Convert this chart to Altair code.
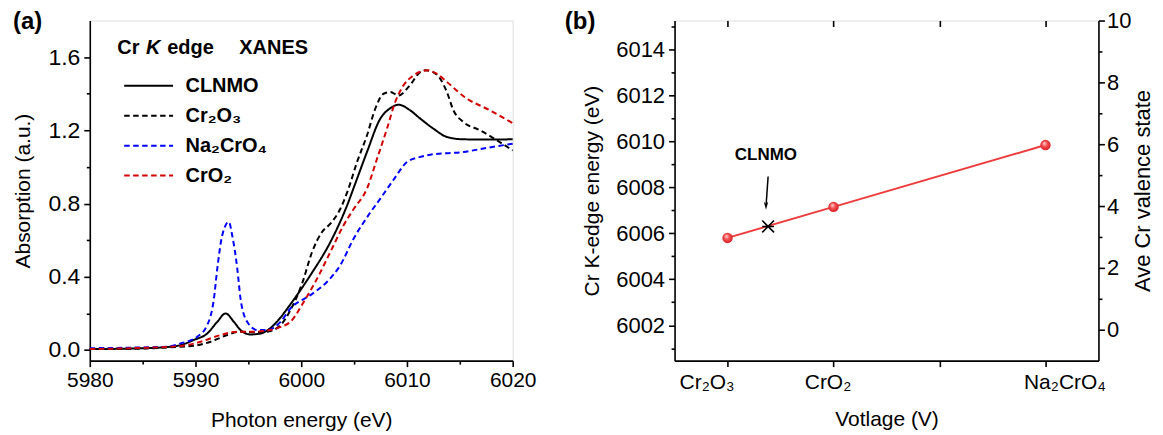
import altair as alt
import pandas as pd

FONT = "Liberation Sans"

# ---------------- Panel (a): Cr K-edge XANES spectra ----------------
clnmo_energy = [5980, 5984, 5987, 5988.6, 5989.85, 5991.1, 5992.06, 5992.84, 5993.63, 5994.26,
                5995.2, 5996.15, 5997.09, 5998.0, 5998.98, 6000.87, 6002.76, 6004.2, 6005.28, 6006.22,
                6007.48, 6008.4, 6009.21, 6010.31, 6011.26, 6012.51, 6013.78, 6015.35, 6017.5, 6020]
clnmo_abs = [0.005, 0.008, 0.015, 0.027, 0.055, 0.09, 0.154, 0.20, 0.154, 0.109,
             0.085, 0.09, 0.12, 0.175, 0.25, 0.409, 0.59, 0.77, 0.936, 1.082,
             1.264, 1.32, 1.34, 1.309, 1.264, 1.209, 1.164, 1.151, 1.15, 1.151]

cr2o3_energy = [5980, 5984, 5988.6, 5989.85, 5991.43, 5993.0, 5994.26, 5995.5, 5996.78, 5998.04,
                5999.0, 6000.08, 6001.03, 6001.97, 6002.76, 6003.7, 6004.4, 6005.28, 6006.22, 6007.0,
                6007.79, 6008.42, 6009.21, 6010.2, 6011.26, 6011.73, 6012.4, 6013.14, 6013.78, 6014.4,
                6015.35, 6016.92, 6018.5, 6020]
cr2o3_abs = [0.005, 0.007, 0.018, 0.023, 0.045, 0.082, 0.1, 0.097, 0.1, 0.136,
             0.22, 0.363, 0.536, 0.645, 0.69, 0.772, 0.87, 1.027, 1.173, 1.318,
             1.40, 1.409, 1.391, 1.44, 1.518, 1.528, 1.52, 1.482, 1.409, 1.309,
             1.245, 1.2, 1.146, 1.09]

na2cro4_energy = [5980, 5984, 5987.34, 5988.59, 5990.17, 5991.11, 5991.74, 5992.06, 5992.53, 5993.15,
                  5993.47, 5993.95, 5994.26, 5994.89, 5995.84, 5996.78, 5998.04, 5998.98, 6000.87, 6002.45,
                  6003.7, 6004.96, 6006.4, 6007.48, 6008.73, 6010.0, 6011.26, 6012.2, 6015.35, 6017.55, 6020]
na2cro4_abs = [0.01, 0.013, 0.018, 0.036, 0.073, 0.136, 0.28, 0.445, 0.627, 0.70,
               0.627, 0.445, 0.28, 0.154, 0.109, 0.109, 0.154, 0.227, 0.30, 0.373,
               0.464, 0.609, 0.74, 0.827, 0.93, 1.027, 1.055, 1.067, 1.082, 1.104, 1.127]

cro2_energy = [5980, 5984, 5988.6, 5990.48, 5992.37, 5993.95, 5995.5, 5997.09, 5998.0, 5998.98,
               6000.24, 6001.5, 6002.76, 6004.01, 6004.96, 6006.22, 6007.17, 6008.11, 6008.89, 6009.68,
               6010.5, 6011.26, 6011.9, 6012.8, 6013.78, 6015.67, 6017.55, 6020]
cro2_abs = [0.005, 0.01, 0.022, 0.045, 0.082, 0.1, 0.1, 0.109, 0.125, 0.154,
            0.263, 0.39, 0.536, 0.682, 0.77, 0.882, 1.045, 1.209, 1.355, 1.446,
            1.495, 1.52, 1.528, 1.51, 1.464, 1.373, 1.318, 1.24]

series_names = ["CLNMO", "Cr₂O₃", "Na₂CrO₄", "CrO₂"]
series_colors = ["#000000", "#000000", "#0000ff", "#d40000"]
series_dashes = [[1, 0], [5.5, 3.5], [5.5, 3.5], [5.5, 3.5]]

xa_major = [5980, 5990, 6000, 6010, 6020]
xa_minor = [5985, 5995, 6005, 6015]
ya_major = [0.0, 0.4, 0.8, 1.2, 1.6]
ya_minor = [0.2, 0.6, 1.0, 1.4]

# ---------------- Panel (b): edge energy vs valence ----------------
ref_names = ["Cr₂O₃", "CrO₂", "Na₂CrO₄"]
ref_valence = [3, 4, 6]
ref_edge = [6005.80, 6007.15, 6009.84]
clnmo_valence = [3.383]
clnmo_edge = [6006.30]
arrow_valence = [3.383, 3.364]
arrow_edge = [6008.47, 6007.25]
arrow_head_valence = [3.363]
arrow_head_edge = [6007.20]
label_valence = [3.362]
label_edge = [6009.40]
label_text = ["CLNMO"]

xb_ticks = [3, 4, 5, 6]
xb_labels = ["Cr₂O₃", "CrO₂", "", "Na₂CrO₄"]
yb_major = [6002, 6004, 6006, 6008, 6010, 6012, 6014]
yb_minor = [6001, 6003, 6005, 6007, 6009, 6011, 6013, 6015]
yr_major = [0, 2, 4, 6, 8, 10]
yr_minor = [1, 3, 5, 7, 9]

# ---------------- build tables ----------------
rows = []
for name, es, vs in zip(series_names,
                        [clnmo_energy, cr2o3_energy, na2cro4_energy, cro2_energy],
                        [clnmo_abs, cr2o3_abs, na2cro4_abs, cro2_abs]):
    for i, (e, v) in enumerate(zip(es, vs)):
        rows.append({"series": name, "energy": e, "absorption": v, "order": i})
df_a = pd.DataFrame(rows)

XA = alt.Scale(domain=[5980, 6020], nice=False, zero=False)
YA = alt.Scale(domain=[-0.058, 1.8], nice=False, zero=False)

AX = dict(labelFont=FONT, titleFont=FONT, titleFontWeight="normal", labelColor="black",
          titleColor="black", domainColor="black", tickColor="black", domainWidth=1.6,
          tickWidth=1.6, grid=False, labelFlush=False, labelOverlap=False)

legend = alt.Legend(title=None, orient="none", legendX=49, legendY=55.5,
                    symbolType="M-8,0H8", symbolSize=37.5, symbolStrokeWidth=2,
                    labelFont=FONT, labelFontSize=20, labelFontWeight="bold",
                    labelColor="black", labelOffset=27, rowPadding=10, padding=0)

lines = alt.Chart(df_a).mark_line(strokeWidth=2, interpolate="monotone").encode(
    x=alt.X("energy:Q", scale=XA,
            axis=alt.Axis(values=xa_major, format="d", title="Photon energy (eV)",
                          labelFontSize=21, titleFontSize=21,
                          tickSize=6, labelPadding=3, titlePadding=19, **AX)),
    y=alt.Y("absorption:Q", scale=YA,
            axis=alt.Axis(values=ya_major, format=".1f", title="Absorption (a.u.)",
                          labelFontSize=23, titleFontSize=21,
                          tickSize=6, labelPadding=4, titlePadding=14, **AX)),
    color=alt.Color("series:N", scale=alt.Scale(domain=series_names, range=series_colors),
                    legend=legend),
    strokeDash=alt.StrokeDash("series:N", scale=alt.Scale(domain=series_names, range=series_dashes),
                              legend=legend),
    order="order:Q",
)

minor_a = alt.Chart(df_a).mark_point(opacity=0).encode(
    x=alt.X("energy:Q", scale=XA,
            axis=alt.Axis(values=xa_minor, orient="bottom", labels=False, title=None,
                          domain=False, tickSize=3.5, **AX)),
    y=alt.Y("absorption:Q", scale=YA,
            axis=alt.Axis(values=ya_minor, orient="left", labels=False, title=None,
                          domain=False, tickSize=3.5, **AX)),
)


def label(txt, x, y, size=20, weight="bold", style="normal", align="left"):
    return alt.Chart(pd.DataFrame({"t": [txt]})).mark_text(
        font=FONT, fontSize=size, fontWeight=weight, fontStyle=style,
        align=align, baseline="alphabetic", color="black",
    ).encode(text="t:N", x=alt.value(x), y=alt.value(y))


panel_a = alt.layer(
    lines, minor_a,
    label("(a)", -77, 8, size=24),
    label("Cr", 27.6, 34),
    label("K", 56.3, 34, style="italic"),
    label("edge", 77.6, 34),
    label("XANES", 149.9, 34),
).resolve_axis(x="independent", y="independent").properties(width=424, height=341)

# ---------------- Panel (b) ----------------
XB = alt.Scale(domain=[2.5, 6.5], nice=False, zero=False)
YB = alt.Scale(domain=[6000.46, 6015.26], nice=False, zero=False)
YR = alt.Scale(domain=[-1, 10], nice=False, zero=False)

label_expr = " : ".join(
    f"datum.value == {v} ? '{t}'" for v, t in zip(xb_ticks, xb_labels) if t
) + " : ''"

df_ref = pd.DataFrame({"name": ref_names, "valence": ref_valence, "edge": ref_edge})
df_clnmo = pd.DataFrame({"valence": clnmo_valence, "edge": clnmo_edge})
df_arrow = pd.DataFrame({"valence": arrow_valence, "edge": arrow_edge})
df_head = pd.DataFrame({"valence": arrow_head_valence, "edge": arrow_head_edge})
df_lab = pd.DataFrame({"valence": label_valence, "edge": label_edge, "t": label_text})

xb_main = alt.X("valence:Q", scale=XB,
                axis=alt.Axis(values=xb_ticks, labelExpr=label_expr, title="Votlage (V)",
                              labelFontSize=21, titleFontSize=21,
                              labelOffset={"condition": [{"test": "datum.value == 3", "value": -21},
                                                         {"test": "datum.value == 6", "value": 19}],
                                           "value": -6},
                              tickSize=6, labelPadding=5, titlePadding=16, **AX))
xb_none = alt.X("valence:Q", scale=XB, axis=None)
yb_none = alt.Y("edge:Q", scale=YB, axis=None)

fit_line = alt.Chart(df_ref).mark_line(color="#ee3b3b", strokeWidth=2).encode(
    x=xb_main,
    y=alt.Y("edge:Q", scale=YB,
            axis=alt.Axis(values=yb_major, format="d", title="Cr K-edge energy (eV)",
                          labelFontSize=22, titleFontSize=21,
                          tickSize=6, labelPadding=4, titlePadding=13, **AX)),
)

sphere = alt.RadialGradient(
    gradient="radial",
    stops=[alt.GradientStop(offset=0, color="#ffdada"),
           alt.GradientStop(offset=0.45, color="#f24a4a"),
           alt.GradientStop(offset=1, color="#cc1622")],
    x1=0.38, y1=0.32, r1=0.0, x2=0.5, y2=0.5, r2=0.6,
)
points = alt.Chart(df_ref).mark_point(filled=True, shape="circle", size=110, fill=sphere,
                                      opacity=1, strokeOpacity=0).encode(x=xb_none, y=yb_none)

marker = alt.Chart(df_clnmo).mark_point(
    shape="M-1,-1L1,1M-1,1L1,-1M-1,0L1,0", size=140, filled=False,
    stroke="black", strokeWidth=1.6, opacity=1,
).encode(x=xb_none, y=yb_none)

arrow = alt.Chart(df_arrow).mark_line(color="black", strokeWidth=1.5).encode(x=xb_none, y=yb_none)
head = alt.Chart(df_head).mark_point(
    shape="M-0.55,-1L0,1L0.55,-1L0,-0.45Z", size=64, filled=True, fill="black",
    opacity=1, strokeOpacity=0,
).encode(x=xb_none, y=yb_none)

clnmo_lbl = alt.Chart(df_lab).mark_text(
    font=FONT, fontSize=17, fontWeight="bold", color="black", align="center", baseline="middle",
).encode(x=xb_none, y=yb_none, text="t:N")

left_minor = alt.Chart(df_ref).mark_point(opacity=0).encode(
    x=xb_none,
    y=alt.Y("edge:Q", scale=YB,
            axis=alt.Axis(values=yb_minor, orient="left", labels=False, title=None,
                          domain=False, tickSize=3.5, **AX)),
)

top_ticks = alt.Chart(df_ref).mark_point(opacity=0).encode(
    x=alt.X("valence:Q", scale=XB,
            axis=alt.Axis(values=xb_ticks, orient="top", labels=False, title=None,
                          domain=False, tickSize=6, offset=-6, **AX)),
    y=yb_none,
)

right_axis = alt.Chart(df_ref).mark_point(opacity=0).encode(
    x=xb_none,
    y=alt.Y("valence:Q", scale=YR,
            axis=alt.Axis(values=yr_major, orient="right", format="d",
                          title="Ave Cr valence state", labelFontSize=22, titleFontSize=22,
                          titleAngle=270, titleBaseline="top",
                          tickSize=6, labelPadding=2, titlePadding=2, **AX)),
)
right_minor = alt.Chart(df_ref).mark_point(opacity=0).encode(
    x=xb_none,
    y=alt.Y("valence:Q", scale=YR,
            axis=alt.Axis(values=yr_minor, orient="right", labels=False, title=None,
                          domain=False, tickSize=3.5, **AX)),
)

panel_b = alt.layer(
    fit_line, points, marker, arrow, head, clnmo_lbl,
    left_minor, top_ticks, right_axis, right_minor,
    label("(b)", -110, 8, size=24),
).resolve_scale(y="independent").resolve_axis(x="independent", y="independent").properties(
    width=425, height=341)

chart = alt.hconcat(panel_a, panel_b, spacing=162.3, bounds="flush").resolve_scale(
    color="independent", strokeDash="independent"
).resolve_legend(color="independent", strokeDash="independent").properties(
    padding={"left": 4, "top": 0, "right": 0, "bottom": 0}
).configure_view(stroke="black", strokeWidth=1.6).configure(background="white")

chart.save("out.html", embed_options={"renderer": "svg", "actions": False})
